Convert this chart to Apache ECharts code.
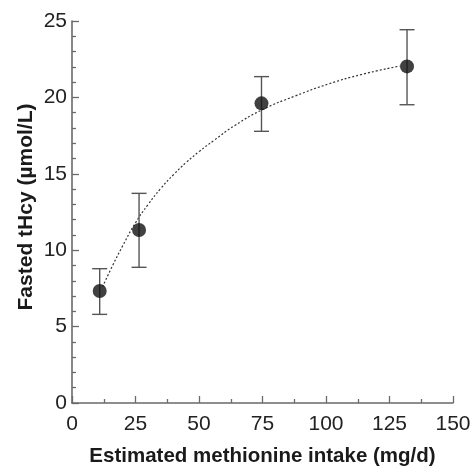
<!DOCTYPE html>
<html>
<head>
<meta charset="utf-8">
<script src="https://cdn.jsdelivr.net/npm/echarts@6/dist/echarts.min.js"></script>
<style>html,body{margin:0;padding:0;background:#fff;}#c{width:471px;height:467px;}</style>
</head>
<body>
<div id="c"></div>
<script>
// Measured points (methionine intake mg/d, fasted tHcy µmol/L)
var intake = [10.9, 26.4, 74.6, 131.9];
var thcy = [7.33, 11.32, 19.61, 22.03];
var errLow = [5.80, 8.88, 17.78, 19.52];
var errHigh = [8.79, 13.72, 21.36, 24.43];
// Fitted curve
var fitX = [12, 16, 20, 25, 30, 35, 40, 45, 50, 56, 64, 75, 88, 101, 114, 129];
var fitY = [7.6, 9.0, 10.3, 11.8, 13.0, 14.05, 14.95, 15.75, 16.45, 17.2, 18.15, 19.2, 20.1, 20.88, 21.5, 22.05];
var xTicks = [0, 25, 50, 75, 100, 125, 150];
var yTicks = [0, 5, 10, 15, 20, 25];

var font = '"Liberation Sans", Arial, Helvetica, sans-serif';
var axisColor = '#6a6a6a';
var chart = echarts.init(document.getElementById('c'));
var pts = intake.map(function (x, i) { return [x, thcy[i]]; });
var errs = intake.map(function (x, i) { return [x, errLow[i], errHigh[i]]; });
var fit = fitX.map(function (x, i) { return [x, fitY[i]]; });

chart.setOption({
  animation: false,
  backgroundColor: '#fff',
  grid: { left: 72, right: 18, top: 21, bottom: 64, containLabel: false, outerBoundsMode: 'none' },
  xAxis: {
    type: 'value', min: xTicks[0], max: xTicks[xTicks.length - 1], interval: 25,
    name: 'Estimated methionine intake (mg/d)', nameLocation: 'middle', nameGap: 43,
    nameMoveOverlap: false,
    nameTextStyle: { fontFamily: font, fontSize: 20.5, fontWeight: 'bold', color: '#1a1a1a' },
    axisLine: { lineStyle: { color: axisColor, width: 1.6 } },
    axisTick: { inside: true, length: 7, lineStyle: { color: axisColor, width: 1.3 } },
    minorTick: { show: true, splitNumber: 2, length: 4, lineStyle: { color: axisColor, width: 1.3 } },
    axisLabel: { fontFamily: font, fontSize: 21, color: '#222', margin: 11 },
    splitLine: { show: false }
  },
  yAxis: {
    type: 'value', min: yTicks[0], max: yTicks[yTicks.length - 1], interval: 5,
    name: 'Fasted tHcy (µmol/L)', nameLocation: 'middle', nameGap: 35,
    nameMoveOverlap: false,
    nameTextStyle: { fontFamily: font, fontSize: 21, fontWeight: 'bold', color: '#1a1a1a', padding: [0, 0, 0, 10] },
    axisLine: { show: true, lineStyle: { color: axisColor, width: 1.6 } },
    axisTick: { show: true, inside: true, length: 7, lineStyle: { color: axisColor, width: 1.3 } },
    minorTick: { show: true, splitNumber: 5, length: 4, lineStyle: { color: axisColor, width: 1.3 } },
    axisLabel: { fontFamily: font, fontSize: 21, color: '#222', margin: 5 },
    splitLine: { show: false }
  },
  series: [
    {
      type: 'line', data: fit, smooth: true, symbol: 'none', z: 1,
      lineStyle: { color: '#333', width: 1.2, type: [2, 2] }
    },
    {
      type: 'custom', z: 2,
      data: errs,
      renderItem: function (params, api) {
        var x = api.value(0);
        var lo = api.coord([x, api.value(1)]);
        var hi = api.coord([x, api.value(2)]);
        var hw = 7.5;
        var st = { stroke: '#555', lineWidth: 1.4 };
        return {
          type: 'group',
          children: [
            { type: 'line', shape: { x1: lo[0], y1: lo[1], x2: hi[0], y2: hi[1] }, style: st },
            { type: 'line', shape: { x1: hi[0] - hw, y1: hi[1], x2: hi[0] + hw, y2: hi[1] }, style: st },
            { type: 'line', shape: { x1: lo[0] - hw, y1: lo[1], x2: lo[0] + hw, y2: lo[1] }, style: st }
          ]
        };
      }
    },
    {
      type: 'scatter', data: pts, symbol: 'circle', symbolSize: 14, z: 3,
      itemStyle: { color: '#111' }
    }
  ]
});
</script>
</body>
</html>
